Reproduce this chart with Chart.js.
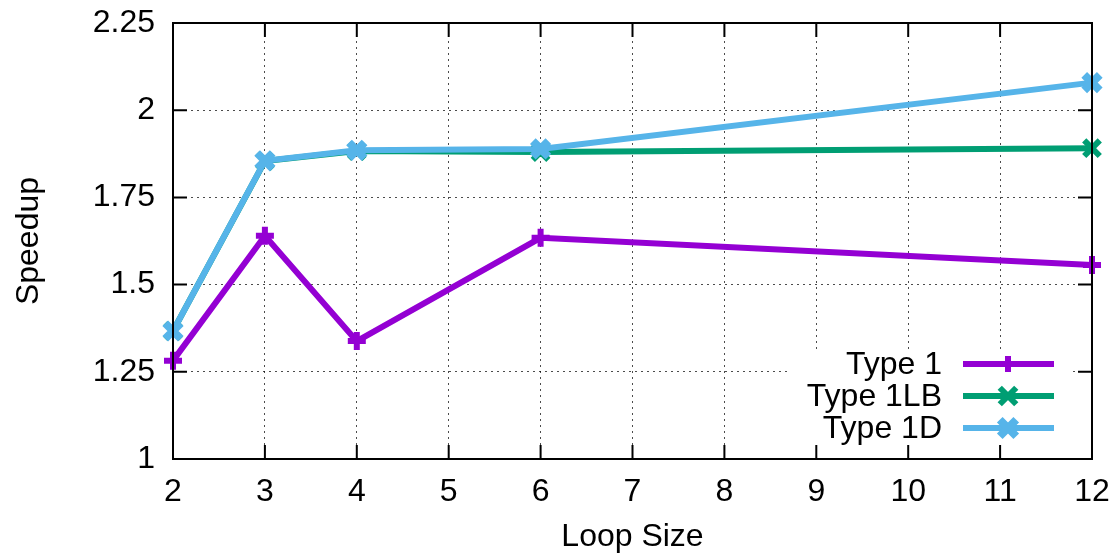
<!DOCTYPE html>
<html>
<head>
<meta charset="utf-8">
<script src="https://cdn.jsdelivr.net/npm/chart.js@4/dist/chart.umd.min.js"></script>
<style>
html,body{margin:0;padding:0;background:#fff;}
#wrap{width:1116px;height:556px;}
</style>
</head>
<body>
<div id="wrap"><canvas id="c" width="1116" height="556"></canvas></div>
<script>
const loopSizes = [2, 3, 4, 6, 12];
const type1 = [1.282, 1.640, 1.338, 1.634, 1.556];
const type1LB = [1.367, 1.854, 1.883, 1.880, 1.891];
const type1D = [1.367, 1.855, 1.885, 1.889, 2.079];
const seriesNames = ['Type 1', 'Type 1LB', 'Type 1D'];
const yTicks = [1, 1.25, 1.5, 1.75, 2, 2.25];
const xTicks = [2, 3, 4, 5, 6, 7, 8, 9, 10, 11, 12];

const colors = ['#9400D3', '#009E73', '#56B4E9'];
const styles = ['cross', 'crossRot', 'crossRot'];
const FONT = "'Liberation Sans', Arial, Helvetica, sans-serif";
const FS = 32;

function pts(arr){ return loopSizes.map((x,i)=>({x:x,y:arr[i]})); }

function drawMarker(ctx, style, x, y, r, color, w){
  ctx.save();
  ctx.strokeStyle = color; ctx.lineWidth = w; ctx.lineCap='butt';
  ctx.beginPath();
  if(style==='cross'){
    ctx.moveTo(x-r,y); ctx.lineTo(x+r,y); ctx.moveTo(x,y-r); ctx.lineTo(x,y+r);
  } else {
    const d=r*0.75;
    ctx.moveTo(x-d,y-d); ctx.lineTo(x+d,y+d); ctx.moveTo(x+d,y-d); ctx.lineTo(x-d,y+d);
  }
  ctx.stroke();
  ctx.restore();
}

const frame = {
  id:'frame',
  beforeDatasetsDraw(chart){
    const ctx=chart.ctx;
    ctx.save();
    ctx.fillStyle='#fff';
    ctx.fillRect(787, 349, 286, 108);
    ctx.restore();
  },
  afterDatasetsDraw(chart){
    const ctx=chart.ctx, a=chart.chartArea;
    const xs=chart.scales.x, ys=chart.scales.y;
    ctx.save();
    ctx.strokeStyle='#000'; ctx.lineWidth=2;
    ctx.strokeRect(a.left, a.top, a.right-a.left, a.bottom-a.top);
    const L=14;
    ctx.beginPath();
    xTicks.forEach(v=>{
      const px=xs.getPixelForValue(v);
      ctx.moveTo(px,a.bottom); ctx.lineTo(px,a.bottom-L);
      ctx.moveTo(px,a.top); ctx.lineTo(px,a.top+L);
    });
    yTicks.forEach(v=>{
      const py=ys.getPixelForValue(v);
      ctx.moveTo(a.left,py); ctx.lineTo(a.left+L,py);
      ctx.moveTo(a.right,py); ctx.lineTo(a.right-L,py);
    });
    ctx.stroke();
    ctx.restore();
  },
  afterDraw(chart){
    const ctx=chart.ctx;
    ctx.save();
    const rows=[364,396,428];
    ctx.font = FS+"px "+FONT;
    ctx.textAlign='right'; ctx.textBaseline='middle';
    ctx.fillStyle='#000';
    seriesNames.forEach((n,i)=>{
      ctx.fillText(n, 942, rows[i]+1);
      ctx.strokeStyle=colors[i]; ctx.lineWidth=6;
      ctx.beginPath(); ctx.moveTo(963,rows[i]); ctx.lineTo(1054,rows[i]); ctx.stroke();
      drawMarker(ctx, styles[i], 1008, rows[i], i===0?8:11, colors[i], i===2?8:6);
    });
    ctx.restore();
  }
};

new Chart(document.getElementById('c'), {
  type:'line',
  data:{
    datasets:[
      {label:seriesNames[0], data:pts(type1), borderColor:colors[0], backgroundColor:colors[0], borderWidth:6, pointStyle:styles[0], pointRadius:9, pointBorderWidth:6, order:2, clip:false},
      {label:seriesNames[1], data:pts(type1LB), borderColor:colors[1], backgroundColor:colors[1], borderWidth:6, pointStyle:styles[1], pointRadius:11, pointBorderWidth:6, order:1, clip:false},
      {label:seriesNames[2], data:pts(type1D), borderColor:colors[2], backgroundColor:colors[2], borderWidth:6, pointStyle:styles[2], pointRadius:11, pointBorderWidth:8, order:0, clip:false}
    ]
  },
  options:{
    responsive:false, animation:false,
    layout:{padding:{left:0, top:23, right:24, bottom:0}},
    plugins:{legend:{display:false}, tooltip:{enabled:false}},
    elements:{line:{tension:0}},
    scales:{
      x:{
        type:'linear', min:2, max:12,
        afterFit(s){ s.height=97; s.paddingLeft=0; s.paddingRight=0; },
        afterBuildTicks(s){ s.ticks = xTicks.map(v=>({value:v})); },
        ticks:{font:{family:FONT,size:FS}, color:'#000', padding:14, maxRotation:0, autoSkip:false, callback:v=>String(v)},
        grid:{drawTicks:false, color:(c)=> (c.tick && (c.tick.value===2||c.tick.value===12))?'rgba(0,0,0,0)':'rgba(0,0,0,0.7)', lineWidth:1},
        border:{display:false, dash:[2,4]},
        title:{display:true, text:'Loop Size', font:{family:FONT,size:FS}, color:'#000', padding:{top:9,bottom:0}}
      },
      y:{
        min:1, max:2.25,
        afterFit(s){ s.width=173; s.paddingTop=0; s.paddingBottom=0; },
        afterBuildTicks(s){ s.ticks = yTicks.map(v=>({value:v})); },
        ticks:{font:{family:FONT,size:FS}, color:'#000', padding:18, autoSkip:false, callback:v=>String(v)},
        grid:{drawTicks:false, color:(c)=> (c.tick && (c.tick.value===1||c.tick.value===2.25))?'rgba(0,0,0,0)':'rgba(0,0,0,0.7)', lineWidth:1},
        border:{display:false, dash:[2,4]},
        title:{display:true, text:'Speedup', font:{family:FONT,size:FS}, color:'#000', padding:{top:10,bottom:0}}
      }
    }
  },
  plugins:[frame]
});
</script>
</body>
</html>
